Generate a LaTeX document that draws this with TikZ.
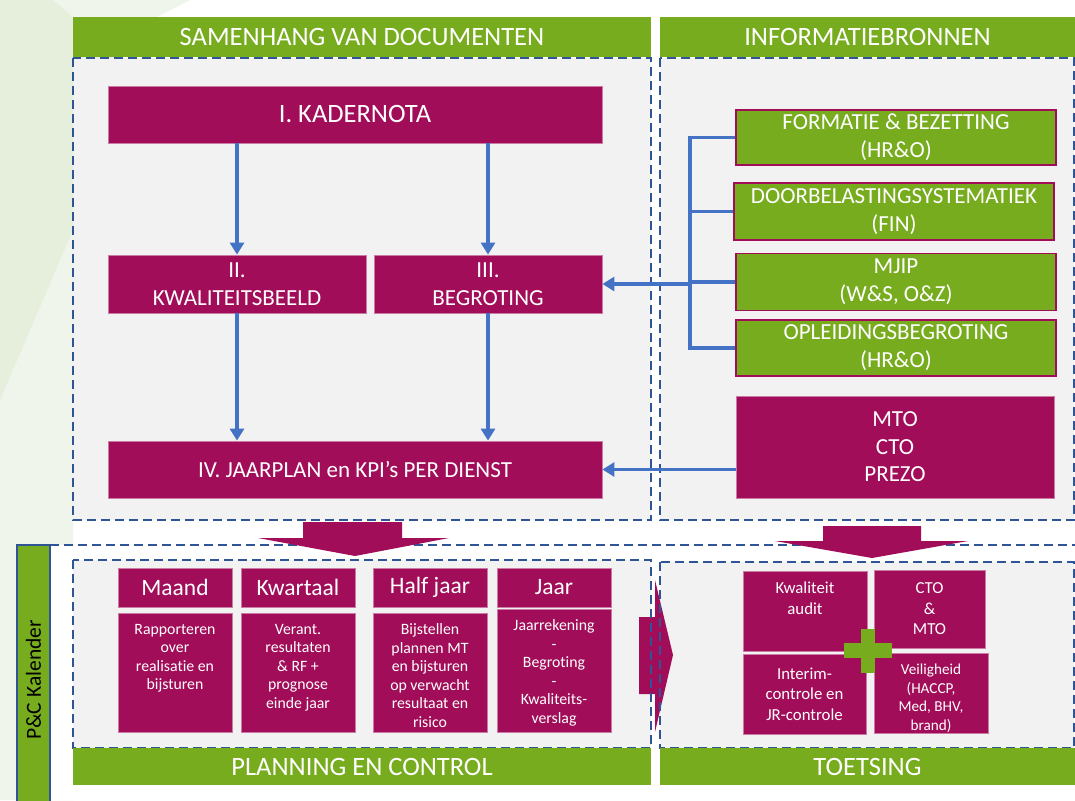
\documentclass[tikz,border=0pt]{standalone}
\usepackage{fontspec}
\setmainfont{Carlito}[Ligatures=NoCommon]
\usetikzlibrary{arrows.meta, positioning, calc}

\definecolor{pcgreen}{RGB}{119,172,30}
\definecolor{pcmagenta}{RGB}{161,13,89}
\definecolor{pcblue}{RGB}{68,114,196}
\definecolor{pcdash}{RGB}{47,85,151}
\definecolor{pcpanel}{RGB}{242,242,242}
\definecolor{pcleaf}{RGB}{230,239,220}
\definecolor{pcleaflight}{RGB}{240,245,235}
\definecolor{pcpale}{RGB}{246,248,243}

\newcommand{\fs}[2]{\fontsize{#1}{#2}\selectfont}
% fixed-size cell with its text hanging from the top
\newcommand{\topcell}[3]{\parbox[c][#2pt][t]{#1pt}{\centering\vspace*{11pt}#3}}

\tikzset{
  wh/.style 2 args={minimum width=#1pt, minimum height=#2pt},
  hdr/.style={rectangle, fill=pcgreen, text=white, inner sep=0pt,
    font=\fs{26.5}{31}},
  docbox/.style={rectangle, fill=pcmagenta, draw=pcmagenta!55!white,
    line width=0.8pt, text=white, align=center, inner sep=0pt,
    font=\fs{23}{28}},
  srcbox/.style={rectangle, fill=pcgreen, draw=pcmagenta,
    line width=1.5pt, text=white, align=center, inner sep=0pt,
    font=\fs{23}{28}},
  period/.style={rectangle, fill=pcmagenta, draw=pcmagenta!55!white,
    line width=0.6pt, text=white, align=center, inner sep=0pt,
    font=\fs{23.5}{27}},
  cell/.style={rectangle, fill=pcmagenta, draw=pcmagenta!55!white,
    line width=0.6pt, text=white, align=center, inner sep=0pt,
    font=\fs{15.8}{18.5}},
  testcell/.style={cell, font=\fs{16.8}{20.5}},
  kalbar/.style={rectangle, fill=pcgreen, draw=pcdash, line width=1.5pt,
    inner sep=0pt, font=\fs{21.5}{25}},
  panelbg/.style={fill=pcpanel},
  panelline/.style={draw=pcdash, line width=2.3pt, dash pattern=on 9pt off 5pt},
  arrow/.style={-{Triangle[length=12pt,width=14pt]}, draw=pcblue, line width=3.6pt},
  bus/.style={draw=pcblue, line width=3.6pt},
  bigarrow/.style={fill=pcmagenta},
  plus/.style={fill=pcgreen}
}

\begin{document}
\begin{tikzpicture}[x=1pt, y=-1pt]
  \useasboundingbox (0,0) rectangle (1075,800);

  % backdrop
  \fill[white] (0,0) rectangle (1075,800);
  \fill[pcpale] (0,0) rectangle (73,800);
  \fill[pcleaflight] (0,0) -- (190,0) -- (73,60) -- (73,800) -- (0,800) -- cycle;
  \fill[pcleaf] (0,0) -- (53,0) -- (140,74) -- (0,400) -- cycle;

  % panels
  \fill[panelbg] (73,58) rectangle (651,520);
  \fill[panelbg] (660,58) rectangle (1074,520);
  \fill[white] (50,545) rectangle (1075,800);
  \fill[panelbg] (73,560) rectangle (651,748);
  \fill[panelbg] (660,562) rectangle (1074,748);
  \draw[panelline, line width=1.8pt] (50,545) -- (1075,545);

  % block arrows
  \fill[bigarrow] (303,522) -- (402,522) -- (402,538) -- (449,538)
    -- (355,556) -- (258,538) -- (303,538) -- cycle;
  \fill[bigarrow] (823,526) -- (921,526) -- (921,541) -- (968,541)
    -- (872,558) -- (775,541) -- (823,541) -- cycle;
  \fill[bigarrow] (639,617) -- (655,617) -- (655,580) -- (673,655)
    -- (655,732) -- (655,694) -- (639,694) -- cycle;

  \draw[panelline] (73,58) rectangle (651,520);
  \draw[panelline] (660,58) rectangle (1074,520);
  \draw[panelline] (73,560) rectangle (651,748);
  \draw[panelline] (660,562) rectangle (1074,748);

  % headers and footers
  \node[hdr, wh={578}{40}] (hdrdoc) at (362,37) {SAMENHANG VAN DOCUMENTEN};
  \node[hdr, wh={415}{40}] (hdrinfo) at (867.5,37) {INFORMATIEBRONNEN};
  \node[hdr, wh={578}{37}] (ftplan) at (362,766.5) {PLANNING EN CONTROL};
  \node[hdr, wh={415}{37}] (fttoets) at (867.5,766.5) {TOETSING};
  \node[kalbar, rotate=90, wh={270}{33}] (kalender) at (33.5,680) {P\&C Kalender};

  % documents
  \node[docbox, wh={494}{57}, font=\fs{26.5}{31}] (kader) at (355,114.5) {I. KADERNOTA};
  \node[docbox, wh={258}{58}] (kwal) at (237,284) {II.\\KWALITEITSBEELD};
  \node[docbox, wh={228}{58}] (begr) at (488,284) {III.\\BEGROTING};
  \node[docbox, wh={494}{57}] (jaarplan) at (355,469.5) {IV. JAARPLAN en KPI’s PER DIENST};

  \draw[arrow] (kader.south -| kwal) -- (kwal);
  \draw[arrow] (kader.south -| begr) -- (begr);
  \draw[arrow] (kwal) -- (kwal |- jaarplan.north);
  \draw[arrow] (begr) -- (begr |- jaarplan.north);

  % sources
  \node[srcbox, wh={320}{55}] (formatie) at (896,137.5) {FORMATIE \& BEZETTING\\(HR\&O)};
  \node[srcbox, wh={320}{57}] (doorbel) at (894,211.5) {DOORBELASTINGSYSTEMATIEK\\(FIN)};
  \node[srcbox, wh={320}{57}] (mjip) at (896,282) {MJIP\\(W\&S, O\&Z)};
  \node[srcbox, wh={320}{56}] (opleid) at (896,348) {OPLEIDINGSBEGROTING\\(HR\&O)};
  \node[docbox, wh={318}{102}, font=\fs{23}{27.5}] (peil) at (895,447) {MTO\\CTO\\PREZO};

  \coordinate (bus) at (690,0);
  \draw[bus] (formatie.west) -| (bus |- opleid.west) -- (opleid.west);
  \draw[bus] (doorbel.west) -- (doorbel.west -| bus);
  \draw[bus] (mjip.west) -- (mjip.west -| bus);
  \draw[arrow] (begr.east -| bus) -- (begr.east);
  \draw[arrow] (peil.west |- jaarplan) -- (jaarplan.east);

  % P&C cycle
  \node[period, wh={114}{39}] (maand) at (175,587.5) {Maand};
  \node[period, wh={114}{39}] (kwartaal) at (298,587.5) {Kwartaal};
  \node[period, wh={114}{39}] (halfjaar) at (430,587.5) {Half jaar};
  \node[period, wh={114}{39}] (jaar) at (554,587.5) {Jaar};

  \node[cell] (maandtxt) at (175,672.5)
    {\topcell{114}{119}{Rapporteren\\over\\realisatie en\\bijsturen}};
  \node[cell] (kwartaaltxt) at (298,672.5)
    {\topcell{114}{119}{Verant.\\resultaten\\\& RF +\\prognose\\einde jaar}};
  \node[cell] (halfjaartxt) at (430,672.5)
    {\topcell{114}{119}{Bijstellen\\plannen MT\\en bijsturen\\op verwacht\\resultaat en\\risico}};
  \node[cell] (jaartxt) at (554,670.5)
    {\topcell{114}{123}{Jaarrekening\\-\\Begroting\\-\\Kwaliteits-\\verslag}};

  % toetsing
  \node[testcell] (audit) at (805,611) {\topcell{124}{80}{Kwaliteit\\audit}};
  \node[testcell, wh={111}{78}] (ctomto) at (929.5,609) {CTO\\\&\\MTO};
  \node[testcell, wh={123}{80}] (interim) at (804.5,694) {Interim-\\controle en\\JR-controle};
  \node[testcell, font=\fs{15.2}{18.5}] (veilig) at (931,693)
    {\topcell{114}{80}{Veiligheid\\(HACCP,\\Med, BHV,\\brand)}};

  \fill[plus] (844,643) rectangle (892,658);
  \fill[plus] (861,629) rectangle (875,673);
\end{tikzpicture}
\end{document}
